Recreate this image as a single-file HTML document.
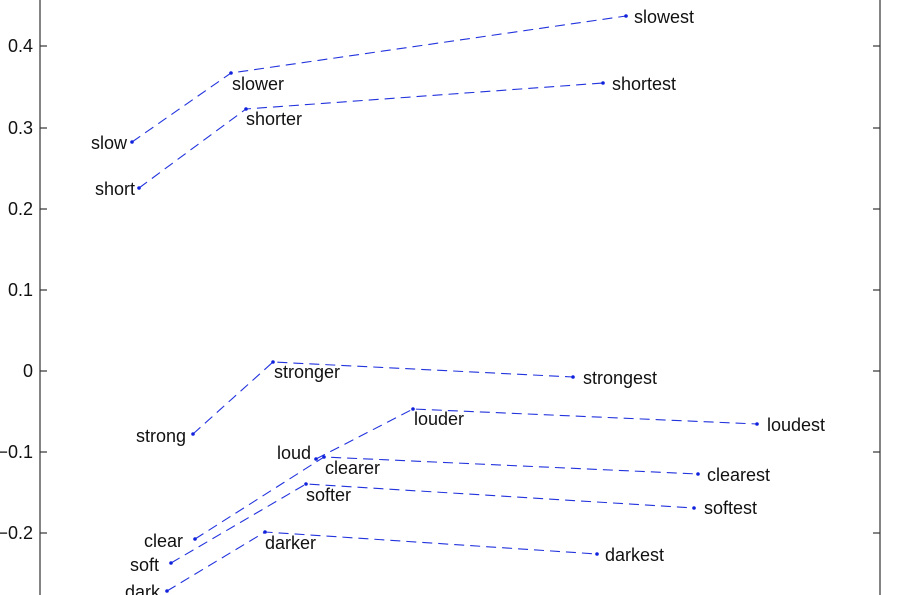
<!DOCTYPE html>
<html><head><meta charset="utf-8"><style>
html,body{margin:0;padding:0;background:#fff;}
svg{display:block;}
text{font-family:"Liberation Sans",sans-serif;font-size:18px;fill:#111;}
</style></head><body>
<svg width="897" height="595" viewBox="0 0 897 595" xmlns="http://www.w3.org/2000/svg">
<g stroke="#333" stroke-width="1.2">
<line x1="40" y1="0" x2="40" y2="595"/>
<line x1="880" y1="0" x2="880" y2="595"/>
<line x1="40" y1="46" x2="47" y2="46"/><line x1="873" y1="46" x2="880" y2="46"/>
<line x1="40" y1="128" x2="47" y2="128"/><line x1="873" y1="128" x2="880" y2="128"/>
<line x1="40" y1="209" x2="47" y2="209"/><line x1="873" y1="209" x2="880" y2="209"/>
<line x1="40" y1="290" x2="47" y2="290"/><line x1="873" y1="290" x2="880" y2="290"/>
<line x1="40" y1="371" x2="47" y2="371"/><line x1="873" y1="371" x2="880" y2="371"/>
<line x1="40" y1="452" x2="47" y2="452"/><line x1="873" y1="452" x2="880" y2="452"/>
<line x1="40" y1="533" x2="47" y2="533"/><line x1="873" y1="533" x2="880" y2="533"/>
</g>
<g text-anchor="end">
<text x="33" y="52">0.4</text><text x="33" y="134">0.3</text><text x="33" y="215">0.2</text>
<text x="33" y="296">0.1</text><text x="33" y="377">0</text><text x="33" y="458">−0.1</text><text x="33" y="539">−0.2</text>
</g>
<g fill="none" stroke="#2233dd" stroke-width="1.1" stroke-dasharray="10,6">
<polyline points="132,142 231,73 626,16"/>
<polyline points="139,188 246,109 603,83"/>
<polyline points="193,434 273,362 573,377"/>
<polyline points="316,459 413,409 757,424"/>
<polyline points="195,539 324,457 698,474"/>
<polyline points="171,563 306,484 694,508"/>
<polyline points="167,591 265,532 597,554"/>
</g>
<g fill="#1122dd">
<circle cx="132" cy="142" r="1.8"/><circle cx="231" cy="73" r="1.8"/><circle cx="626" cy="16" r="1.8"/>
<circle cx="139" cy="188" r="1.8"/><circle cx="246" cy="109" r="1.8"/><circle cx="603" cy="83" r="1.8"/>
<circle cx="193" cy="434" r="1.8"/><circle cx="273" cy="362" r="1.8"/><circle cx="573" cy="377" r="1.8"/>
<circle cx="316" cy="459" r="1.8"/><circle cx="413" cy="409" r="1.8"/><circle cx="757" cy="424" r="1.8"/>
<circle cx="195" cy="539" r="1.8"/><circle cx="324" cy="457" r="1.8"/><circle cx="698" cy="474" r="1.8"/>
<circle cx="171" cy="563" r="1.8"/><circle cx="306" cy="484" r="1.8"/><circle cx="694" cy="508" r="1.8"/>
<circle cx="167" cy="591" r="1.8"/><circle cx="265" cy="532" r="1.8"/><circle cx="597" cy="554" r="1.8"/>
</g>
<g text-anchor="end">
<text x="127" y="149">slow</text><text x="135" y="195">short</text><text x="186" y="442">strong</text>
<text x="311" y="459">loud</text><text x="183" y="547">clear</text><text x="159" y="571">soft</text><text x="160" y="598">dark</text>
</g>
<text x="232" y="90">slower</text><text x="246" y="125">shorter</text><text x="274" y="378">stronger</text>
<text x="414" y="425">louder</text><text x="325" y="474">clearer</text><text x="306" y="501">softer</text><text x="265" y="549">darker</text>
<text x="634" y="23">slowest</text><text x="612" y="90">shortest</text><text x="583" y="384">strongest</text>
<text x="767" y="431">loudest</text><text x="707" y="481">clearest</text><text x="704" y="514">softest</text><text x="605" y="561">darkest</text>
</svg>
</body></html>
